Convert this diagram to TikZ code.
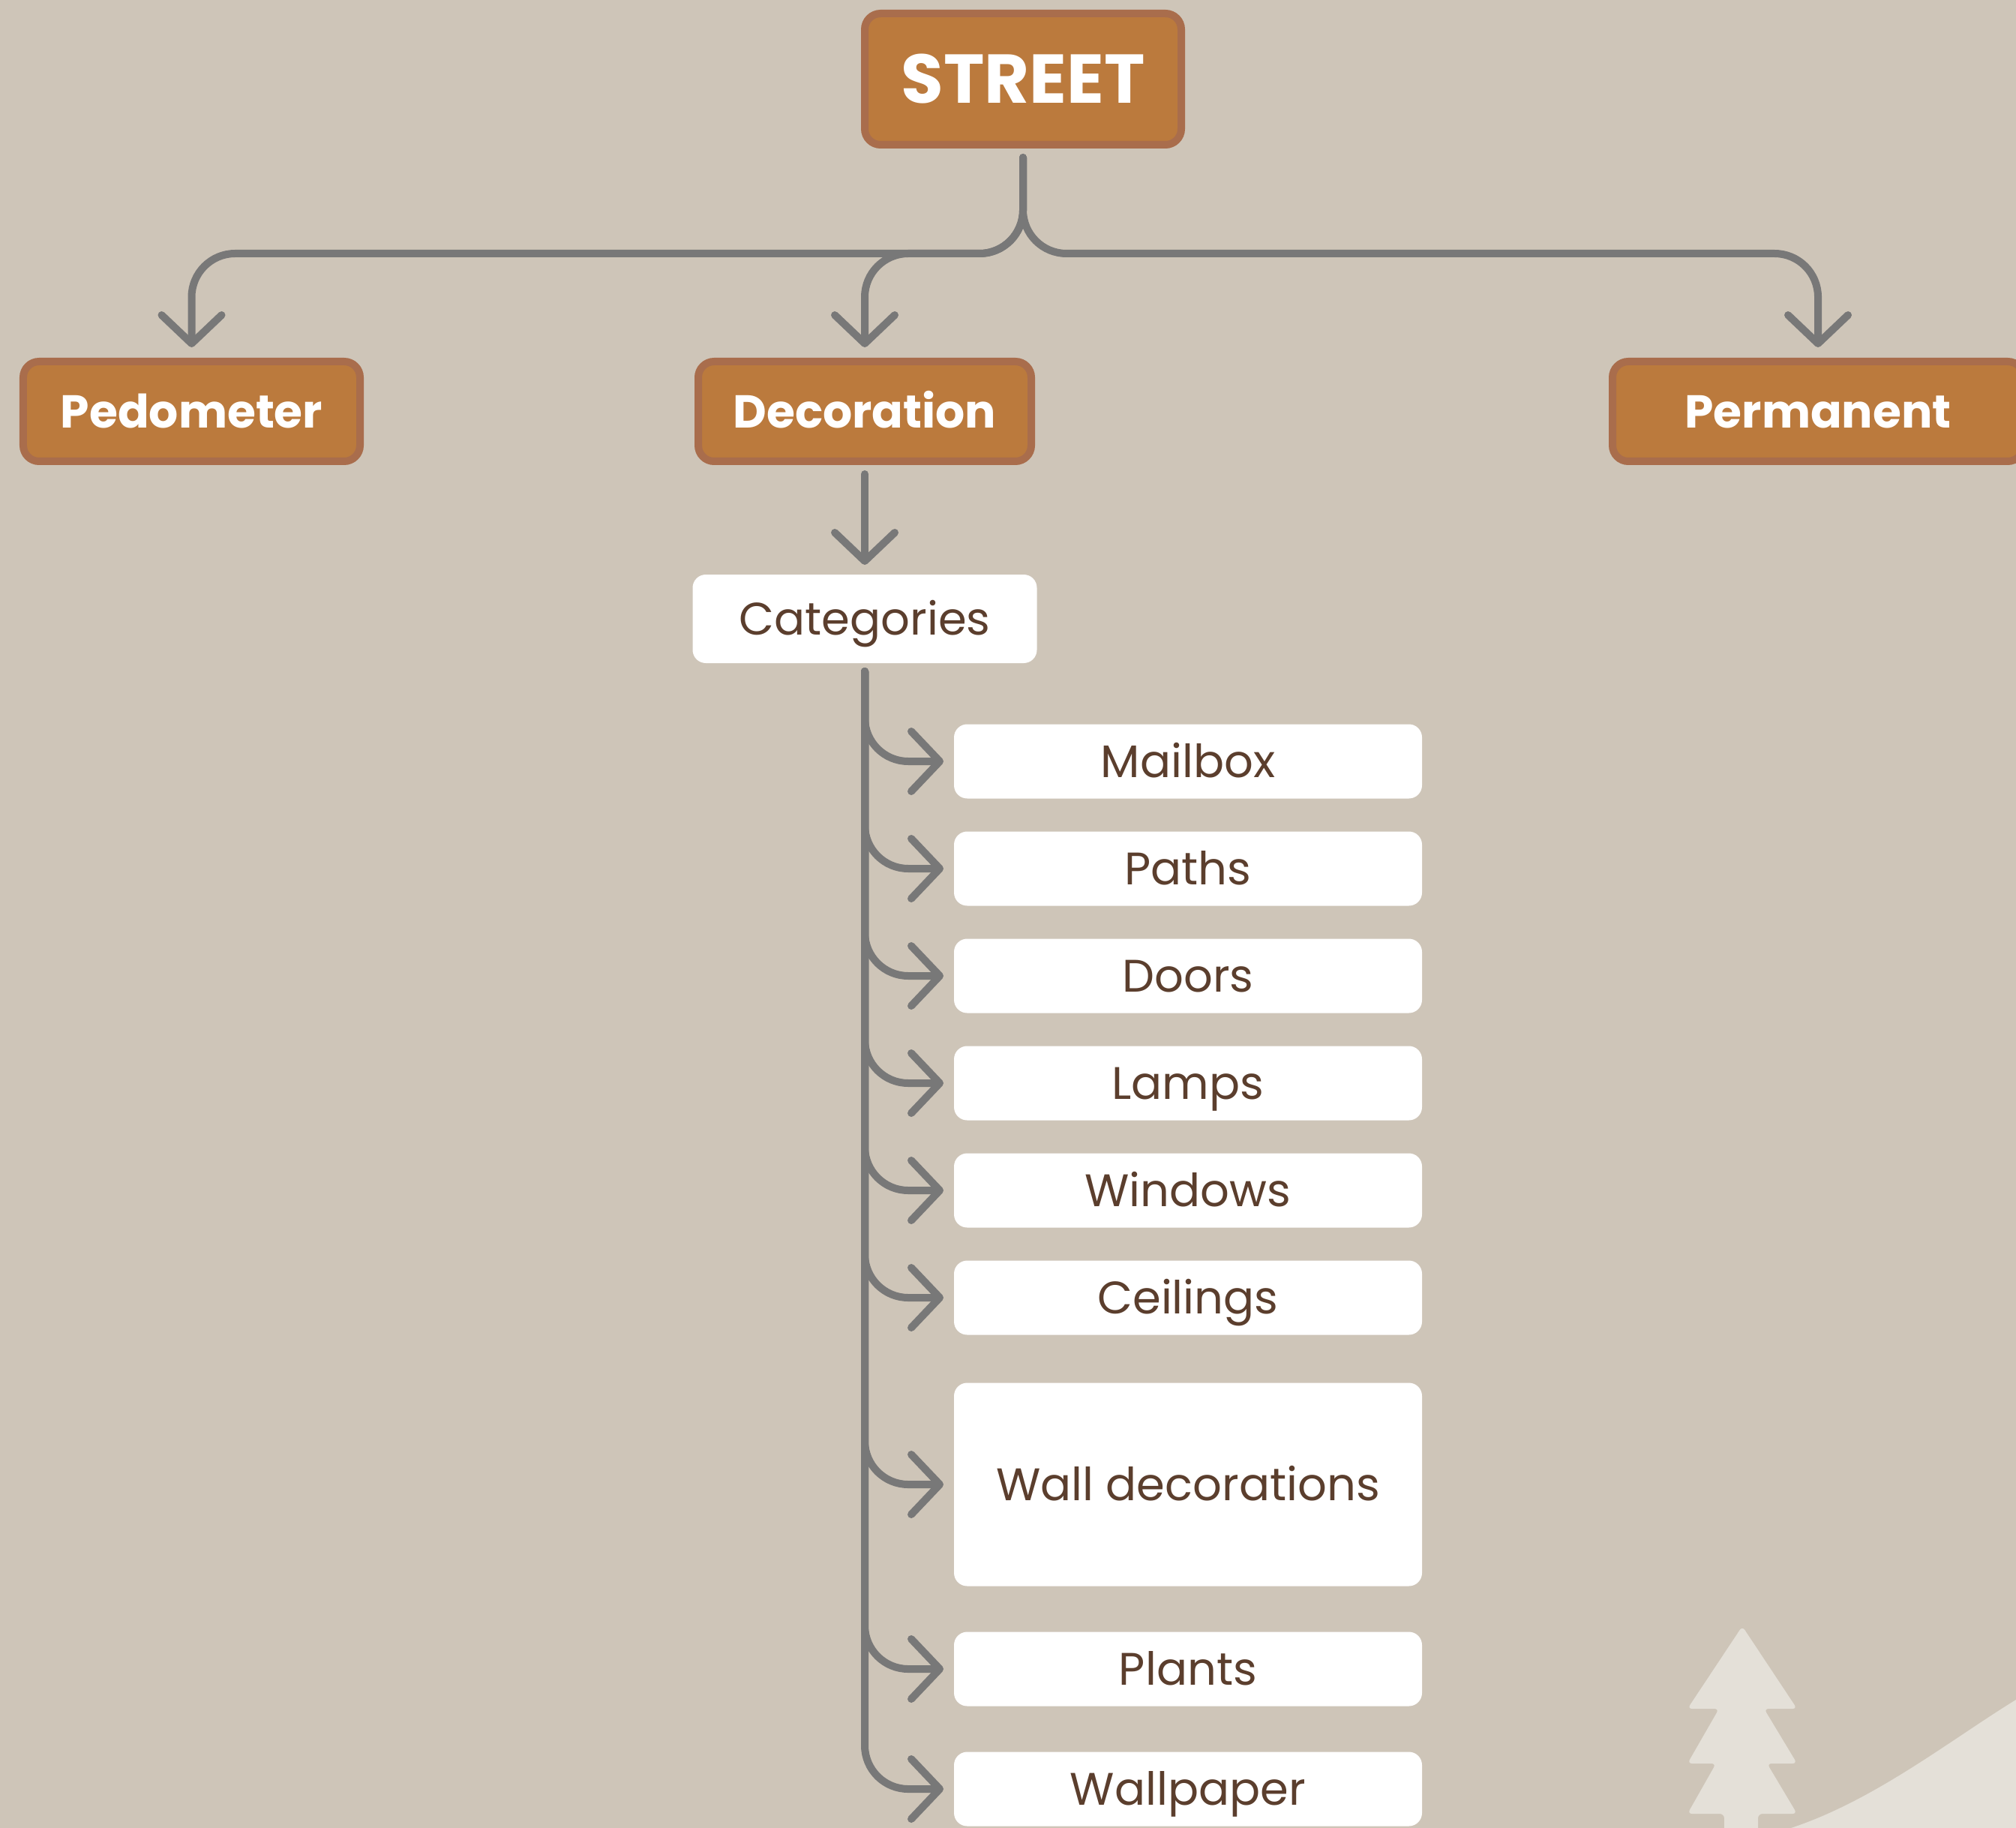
\documentclass[tikz,border=0pt]{standalone}
\usepackage{fontspec}
\setmainfont{Poppins}
\usepackage{tikz}
\usetikzlibrary{arrows.meta, positioning}

\definecolor{sand}{HTML}{CEC5B8}
\definecolor{rust}{HTML}{BB7A3D}
\definecolor{rustline}{HTML}{A96D4C}
\definecolor{cocoa}{HTML}{5B3E2D}
\definecolor{wire}{HTML}{787878}
\definecolor{chalk}{HTML}{E4E0D8}

\begin{document}
\begin{tikzpicture}[
  head/.style={rectangle, draw=rustline, fill=rust, line width=1mm, rounded corners=6pt, minimum height=1.33cm, text height=12.3pt, text depth=0pt, text=white, font=\bfseries\fontsize{17.5}{22}\selectfont},
  item/.style={rectangle, fill=white, rounded corners=5pt, minimum width=6.24cm, minimum height=0.99cm, outer sep=0pt, text height=12.2pt, text depth=0pt, text=cocoa, font=\fontsize{17.3}{22}\selectfont},
  arrow/.style={draw=wire, line width=1mm, line cap=round, line join=round, rounded corners=0.58cm, -{Straight Barb[length=0.38cm, width=0.8cm, round]}}
]

% background, hill and tree
\fill[sand] (0,0) rectangle (26.88,-24.37);
\useasboundingbox (0,0) rectangle (26.88,-24.37);
\fill[chalk] (23.88,-24.37) .. controls (25.0,-24.0) and (26.0,-23.2) .. (26.88,-22.66) -- (26.88,-24.37) -- cycle;
\fill[chalk, rounded corners=0.6mm] (23.23,-21.68) -- (23.96,-22.78) -- (23.52,-22.78) -- (23.96,-23.51) -- (23.56,-23.51) -- (23.96,-24.18) -- (23.44,-24.18) -- (23.44,-24.5) -- (22.99,-24.5) -- (22.99,-24.18) -- (22.50,-24.18) -- (22.88,-23.51) -- (22.50,-23.51) -- (22.92,-22.78) -- (22.50,-22.78) -- cycle;

% top row
\node[head, minimum width=4.22cm, minimum height=1.75cm, text height=18.3pt, font=\bfseries\fontsize{26.2}{30}\selectfont] (street) at (13.64,-1.055) {STREET};
\node[head, minimum width=4.49cm] (pedo) at (2.555,-5.485) {Pedometer};
\node[head, minimum width=4.44cm] (deco) at (11.53,-5.485) {Decoration};
\node[head, minimum width=5.48cm] (perm) at (24.24,-5.485) {Permanent};

\node[item, minimum width=4.59cm, minimum height=1.18cm, below=1.46cm of deco] (cats) {Categories};

% list of categories
\node[item] (mailbox) at (15.84,-10.15) {Mailbox};
\node[item, below=0.44cm of mailbox] (paths) {Paths};
\node[item, below=0.44cm of paths] (doors) {Doors};
\node[item, below=0.44cm of doors] (lamps) {Lamps};
\node[item, below=0.44cm of lamps] (windows) {Windows};
\node[item, below=0.44cm of windows] (ceilings) {Ceilings};
\node[item, minimum height=2.71cm, below=0.64cm of ceilings] (walldeco) {Wall decorations};
\node[item, below=0.61cm of walldeco] (plants) {Plants};
\node[item, below=0.61cm of plants] (wallpaper) {Wallpaper};

\draw[arrow] ([yshift=-0.12cm]street.south) -- ++(0,-1.28) -| ([yshift=0.14cm]pedo.north);
\draw[arrow] ([yshift=-0.12cm]street.south) -- ++(0,-1.28) -| ([yshift=0.14cm]deco.north);
\draw[arrow] ([yshift=-0.12cm]street.south) -- ++(0,-1.28) -| ([yshift=0.14cm]perm.north);
\draw[arrow] ([yshift=-0.12cm]deco.south) -- ([yshift=0.13cm]cats.north);

\draw[arrow] ([yshift=-0.11cm]cats.south) |- ([xshift=-0.14cm]mailbox.west);
\draw[arrow] ([yshift=-0.11cm]cats.south) |- ([xshift=-0.14cm]paths.west);
\draw[arrow] ([yshift=-0.11cm]cats.south) |- ([xshift=-0.14cm]doors.west);
\draw[arrow] ([yshift=-0.11cm]cats.south) |- ([xshift=-0.14cm]lamps.west);
\draw[arrow] ([yshift=-0.11cm]cats.south) |- ([xshift=-0.14cm]windows.west);
\draw[arrow] ([yshift=-0.11cm]cats.south) |- ([xshift=-0.14cm]ceilings.west);
\draw[arrow] ([yshift=-0.11cm]cats.south) |- ([xshift=-0.14cm]walldeco.west);
\draw[arrow] ([yshift=-0.11cm]cats.south) |- ([xshift=-0.14cm]plants.west);
\draw[arrow] ([yshift=-0.11cm]cats.south) |- ([xshift=-0.14cm]wallpaper.west);

\end{tikzpicture}
\end{document}
